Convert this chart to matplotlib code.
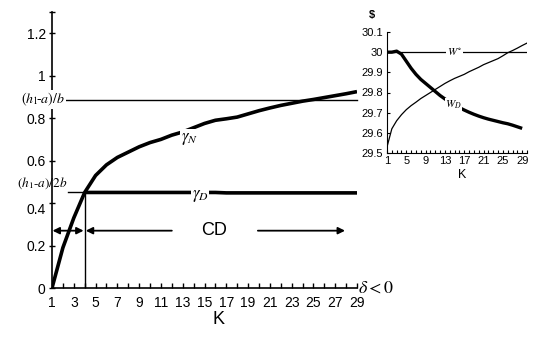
import matplotlib
matplotlib.use("Agg")
import matplotlib.pyplot as plt
import numpy as np

# ---- data ----
K_main = list(range(1, 30))
gamma_N = [0.0, 0.19, 0.33, 0.45, 0.53, 0.58, 0.615, 0.64, 0.665, 0.685,
           0.70, 0.72, 0.735, 0.755, 0.775, 0.79, 0.797, 0.805, 0.82, 0.835,
           0.848, 0.86, 0.87, 0.88, 0.888, 0.897, 0.906, 0.915, 0.925]
K_D = list(range(4, 30))
gamma_D = [0.45] * 13 + [0.448] * 13
level_b = 0.887
level_2b = 0.45
main_yticks = [0, 0.2, 0.4, 0.6, 0.8, 1, 1.2]
main_yticklabels = ["0", "0.2", "0.4", "0.6", "0.8", "1", "1.2"]
main_xticklabels = list(range(1, 30, 2))

K_in = list(range(1, 30))
W_D = [30.0, 30.0, 30.005, 29.99, 29.955, 29.92, 29.89, 29.865, 29.845, 29.825,
       29.805, 29.785, 29.768, 29.752, 29.738, 29.725, 29.713, 29.702, 29.692,
       29.683, 29.675, 29.668, 29.662, 29.656, 29.65, 29.645, 29.638, 29.63, 29.622]
K_in2 = list(range(1, 31))
W_thin = [29.53, 29.62, 29.66, 29.69, 29.715, 29.735, 29.752, 29.77, 29.785, 29.80,
          29.815, 29.83, 29.845, 29.858, 29.87, 29.88, 29.89, 29.903, 29.914, 29.925,
          29.938, 29.948, 29.958, 29.968, 29.982, 29.997, 30.008, 30.02, 30.033, 30.045]
W0 = 30.0
inset_yticks = [29.5, 29.6, 29.7, 29.8, 29.9, 30.0, 30.1]
inset_yticklabels = ["29.5", "29.6", "29.7", "29.8", "29.9", "30", "30.1"]
inset_xticklabels = [1, 5, 9, 13, 17, 21, 25, 29]

sans = "Liberation Sans"
serif = "Liberation Serif"

fig = plt.figure(figsize=(5.33, 3.43), dpi=100)

# ---- main axes ----
ax = fig.add_axes([52/533, (343-288)/343, (357-52)/533, (288-12)/343])
ax.set_xlim(1, 29)
ax.set_ylim(0, 1.3)
for s in ["top", "right"]:
    ax.spines[s].set_visible(False)
ax.spines["left"].set_linewidth(1.2)
ax.spines["bottom"].set_linewidth(1.2)

ax.set_xticks(K_main, minor=False)
ax.set_xticklabels([str(k) if k in main_xticklabels else "" for k in K_main],
                   fontfamily=sans, fontsize=10)
ax.tick_params(axis="x", direction="in", length=3.5, width=1, pad=6)
ax.set_yticks(main_yticks + [1.3])
ax.set_yticklabels(main_yticklabels + [""], fontfamily=sans, fontsize=10)
ax.tick_params(axis="y", direction="inout", length=5, width=1, pad=2)
# nudge 0.4 label slightly down as in the reference
for lab in ax.get_yticklabels():
    if lab.get_text() == "0.4":
        lab.set_va("top")

# gamma_N
ax.plot(K_main, gamma_N, color="black", lw=2.6, solid_capstyle="butt", zorder=3)
# gamma_D
ax.plot(K_D, gamma_D, color="black", lw=2.6, solid_capstyle="butt", zorder=3)
# thin reference lines
ax.plot([2.2, 29], [level_b, level_b], color="black", lw=1.0, clip_on=False)
ax.plot([2.45, 4], [level_2b, level_2b], color="black", lw=1.0, clip_on=False)
ax.plot([4, 4], [0, level_2b], color="black", lw=1.0)

ax.text(2.2, level_b, r"$(h_1\!\text{-}a)/b$", ha="right", va="center",
        fontsize=10, fontfamily=serif, math_fontfamily="stix",
        bbox=dict(fc="white", ec="none", pad=0.5), clip_on=False, zorder=5)
ax.text(2.45, level_2b + 0.005, r"$(h_1\text{-}a)/2b$", ha="right", va="bottom",
        fontsize=9.5, fontfamily=serif, math_fontfamily="stix",
        clip_on=False, zorder=5)

ax.text(13.6, 0.705, r"$\gamma_N$", ha="center", va="center", fontsize=12,
        math_fontfamily="stix", bbox=dict(fc="white", ec="none", pad=0.5), zorder=4)
ax.text(14.6, 0.44, r"$\gamma_D$", ha="center", va="center", fontsize=12,
        math_fontfamily="stix", bbox=dict(fc="white", ec="none", pad=0.5), zorder=4)

# arrows
arr_y = 0.27
ap = dict(arrowstyle="<|-|>", color="black", lw=1.3, mutation_scale=10,
          shrinkA=0, shrinkB=0)
ax.annotate("", xy=(1.05, arr_y), xytext=(3.9, arr_y), arrowprops=ap)
ax.annotate("", xy=(4.1, arr_y), xytext=(12.0, arr_y),
            arrowprops=dict(arrowstyle="-|>", color="black", lw=1.3,
                            mutation_scale=10, shrinkA=0, shrinkB=0))
ax.annotate("", xy=(27.9, arr_y), xytext=(19.9, arr_y),
            arrowprops=dict(arrowstyle="-|>", color="black", lw=1.3,
                            mutation_scale=10, shrinkA=0, shrinkB=0))
ax.text(15.9, arr_y, "CD", ha="center", va="center", fontsize=13, fontfamily=sans)

ax.text(29.05, 0.0, r"$\delta<0$", ha="left", va="center", fontsize=13,
        math_fontfamily="stix", clip_on=False)
fig.text(218/533, 1 - 320/343, "K", ha="center", va="center", fontsize=13,
         fontfamily=sans)

# ---- inset ----
ax2 = fig.add_axes([387/533, (343-153)/343, (527-387)/533, (153-32)/343])
ax2.set_xlim(1, 30)
ax2.set_ylim(29.5, 30.1)
for s in ["top", "right"]:
    ax2.spines[s].set_visible(False)
ax2.set_xticks(range(1, 31), minor=False)
ax2.set_xticklabels([str(k) if k in inset_xticklabels else "" for k in range(1, 31)],
                    fontfamily=sans, fontsize=8)
ax2.tick_params(axis="x", direction="in", length=2, width=0.8, pad=2)
ax2.set_yticks(inset_yticks)
ax2.set_yticklabels(inset_yticklabels, fontfamily=sans, fontsize=8)
ax2.tick_params(axis="y", direction="in", length=2.5, width=0.8, pad=3)

ax2.plot([1, 30], [W0, W0], color="black", lw=0.9)
ax2.plot(K_in, W_D, color="black", lw=2.4, solid_capstyle="butt", zorder=3)
ax2.plot(K_in2, W_thin, color="black", lw=0.9, zorder=3)
ax2.text(15.0, W0, r"$W^{\circ}$", ha="center", va="center", fontsize=8,
         math_fontfamily="stix", bbox=dict(fc="white", ec="none", pad=0.8), zorder=4)
ax2.text(14.8, 29.738, r"$W_D$", ha="center", va="center", fontsize=8,
         math_fontfamily="stix", bbox=dict(fc="white", ec="none", pad=0.3), zorder=4)
fig.text(372/533, 1 - 15/343, "$", ha="center", va="center", fontsize=8,
         fontfamily=sans, fontweight="bold")
fig.text(462/533, 1 - 175/343, "K", ha="center", va="center", fontsize=9,
         fontfamily=sans)

fig.savefig("out.png", dpi=100)
